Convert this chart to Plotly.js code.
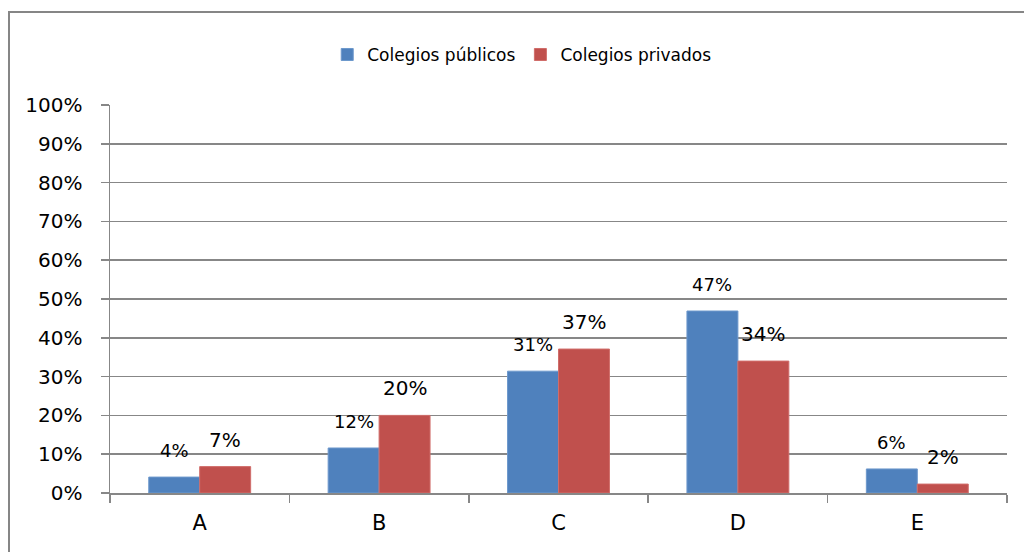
<!DOCTYPE html>
<html>
<head>
<meta charset="utf-8">
<script src="https://cdn.plot.ly/plotly-3.0.1.min.js"></script>
<style>
  html, body { margin: 0; padding: 0; background: #ffffff; }
  #wrap { position: relative; width: 1024px; height: 552px; overflow: hidden; }
  #chart { position: absolute; left: 0; top: 0; width: 1024px; height: 552px; }
  #frame { position: absolute; left: 8px; top: 11px; width: 1030px; height: 560px;
           border-left: 2px solid #868686; border-top: 2px solid #868686; pointer-events: none; }
</style>
</head>
<body>
<div id="wrap">
  <div id="chart"></div>
  <div id="frame"></div>
</div>
<script>
const categories = ['A', 'B', 'C', 'D', 'E'];
const seriesNames = ['Colegios públicos', 'Colegios privados'];
const publicValues = [0.041, 0.116, 0.314, 0.469, 0.062];
const privateValues = [0.068, 0.200, 0.371, 0.340, 0.023];
const yTickValues = [0, 0.1, 0.2, 0.3, 0.4, 0.5, 0.6, 0.7, 0.8, 0.9, 1.0];

const blue = '#4F81BD';
const red = '#C0504D';
const grid = '#878787';
const fontFamily = 'DejaVu Sans, sans-serif';
const barW = 0.284;

const traces = [
  {
    type: 'bar', name: seriesNames[0], x: categories, y: publicValues,
    width: barW, offset: -barW,
    marker: { color: blue, line: { color: '#6d98cc', width: 1 } },
    hoverinfo: 'none'
  },
  {
    type: 'bar', name: seriesNames[1], x: categories, y: privateValues,
    width: barW, offset: 0,
    marker: { color: red, line: { color: '#d06d6a', width: 1 } },
    hoverinfo: 'none'
  }
];

const annotations = [];
categories.forEach((c, i) => {
  annotations.push({
    x: i - barW / 2, y: publicValues[i], xref: 'x', yref: 'y',
    text: Math.round(publicValues[i] * 100) + '%',
    showarrow: false, xanchor: 'center', yanchor: 'bottom', yshift: 14,
    font: { family: fontFamily, size: 18, color: '#000000' }
  });
  annotations.push({
    x: i + barW / 2, y: privateValues[i], xref: 'x', yref: 'y',
    text: Math.round(privateValues[i] * 100) + '%',
    showarrow: false, xanchor: 'center', yanchor: 'bottom', yshift: 13,
    font: { family: fontFamily, size: 20, color: '#000000' }
  });
});

const layout = {
  width: 1024, height: 552,
  margin: { l: 110, r: 17, t: 105, b: 59, pad: 0 },
  paper_bgcolor: '#ffffff', plot_bgcolor: '#ffffff',
  font: { family: fontFamily, color: '#000000' },
  barmode: 'group',
  showlegend: true,
  legend: {
    orientation: 'h', x: 0.459, xanchor: 'center', y: 1.129, yanchor: 'middle',
    font: { family: fontFamily, size: 17, color: '#000000' },
    bgcolor: 'rgba(0,0,0,0)'
  },
  xaxis: {
    type: 'category', range: [-0.5, 4.5],
    showline: true, linecolor: grid, linewidth: 1.5,
    ticks: 'outside', tickson: 'boundaries', ticklen: 8, tickcolor: grid, tickwidth: 1.5,
    ticklabelstandoff: 10,
    tickfont: { family: fontFamily, size: 21, color: '#000000' },
    showgrid: false, zeroline: false, fixedrange: true
  },
  yaxis: {
    range: [0, 1], tickvals: yTickValues, tickformat: '.0%',
    showline: true, linecolor: grid, linewidth: 1.5,
    ticks: 'outside', ticklen: 8, tickcolor: grid, tickwidth: 1.5,
    ticklabelstandoff: 14,
    tickfont: { family: fontFamily, size: 20, color: '#000000' },
    showgrid: true, gridcolor: grid, gridwidth: 1.5, zeroline: false, fixedrange: true
  },
  annotations: annotations
};

Plotly.newPlot('chart', traces, layout, { displayModeBar: false, staticPlot: true });
</script>
</body>
</html>
